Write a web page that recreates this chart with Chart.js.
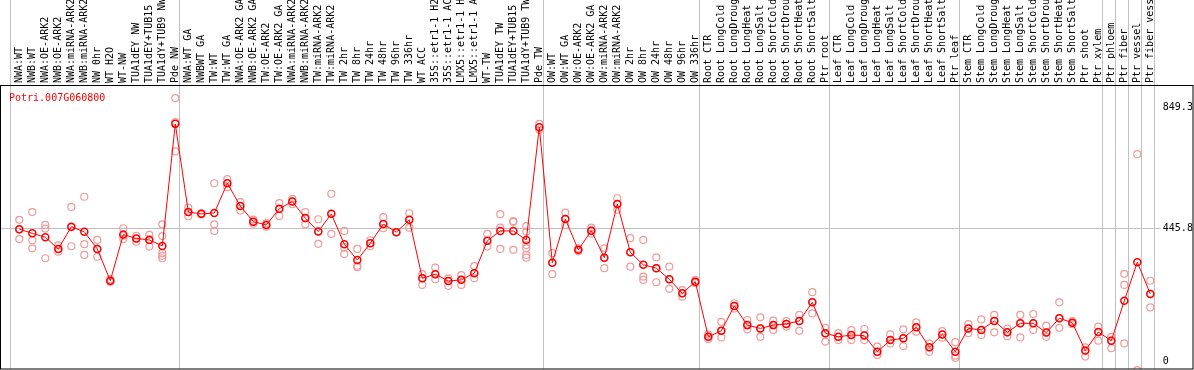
<!DOCTYPE html>
<html>
<head>
<meta charset="utf-8">
<script src="https://cdn.jsdelivr.net/npm/chart.js@4.4.1/dist/chart.umd.min.js"></script>
<style>
  html, body { margin: 0; padding: 0; background: #fff; }
  canvas { display: block; }
</style>
</head>
<body>
<canvas id="geneChart" width="1194" height="370"></canvas>
<script>
(function () {
    "use strict";

    var geneName = 'Potri.007G060800';

    var labels = [
        'NWA:WT', 'NWB:WT', 'NWA:OE-ARK2', 'NWB:OE-ARK2', 'NWA:miRNA-ARK2', 'NWB:miRNA-ARK2',
        'NW 0hr', 'WT H2O', 'WT-NW', 'TUA1dEY NW', 'TUA1dEY+TUB15 NW', 'TUA1dY+TUB9 NW', 'Pde NW',
        'NWA:WT GA', 'NWBWT GA', 'TW:WT', 'TW:WT GA', 'NWA:OE-ARK2 GA', 'NWB:OE-ARK2 GA',
        'TW:OE-ARK2', 'TW:OE-ARK2 GA', 'NWA:miRNA-ARK2', 'NWB:miRNA-ARK2', 'TW:miRNA-ARK2',
        'TW:miRNA-ARK2', 'TW 2hr', 'TW 8hr', 'TW 24hr', 'TW 48hr', 'TW 96hr', 'TW 336hr',
        'WT ACC', '35S::etr1-1 H2O', '35S::etr1-1 ACC', 'LMX5::etr1-1 H2O', 'LMX5::etr1-1 ACC',
        'WT-TW', 'TUA1dEY TW', 'TUA1dEY+TUB15 TW', 'TUA1dY+TUB9 TW', 'Pde TW',
        'OW:WT', 'OW:WT GA', 'OW:OE-ARK2', 'OW:OE-ARK2 GA', 'OW:miRNA-ARK2', 'OW:miRNA-ARK2',
        'OW 2hr', 'OW 8hr', 'OW 24hr', 'OW 48hr', 'OW 96hr', 'OW 336hr',
        'Root CTR', 'Root LongCold', 'Root LongDrought', 'Root LongHeat', 'Root LongSalt',
        'Root ShortCold', 'Root ShortDrought', 'Root ShortHeat', 'Root ShortSalt', 'Ptr root',
        'Leaf CTR', 'Leaf LongCold', 'Leaf LongDrought', 'Leaf LongHeat', 'Leaf LongSalt',
        'Leaf ShortCold', 'Leaf ShortDrought', 'Leaf ShortHeat', 'Leaf ShortSalt', 'Ptr leaf',
        'Stem CTR', 'Stem LongCold', 'Stem LongDrought', 'Stem LongHeat', 'Stem LongSalt',
        'Stem ShortCold', 'Stem ShortDrought', 'Stem ShortHeat', 'Stem ShortSalt', 'Ptr shoot',
        'Ptr xylem', 'Ptr phloem', 'Ptr fiber', 'Ptr vessel', 'Ptr fiber vessel'
    ];

    // mean expression per sample (red line)
    var means = [
        442, 428, 415, 376, 450, 433, 376, 270, 424, 411, 406, 386, 793,
        499, 493, 496, 595, 519, 467, 456, 510, 534, 479, 434, 493, 392, 339, 395, 459, 432, 473,
        278, 292, 269, 273, 295, 403, 436, 436, 406, 782,
        330, 476, 373, 437, 347, 526, 365, 323, 312, 275, 228, 267,
        83, 103, 186, 122, 111, 122, 126, 136, 198, 95,
        83, 89, 87, 33, 72, 78, 115, 48, 91, 33,
        111, 106, 136, 98, 128, 128, 97, 145, 130, 37, 99,
        70, 203, 332, 226
    ];

    // single replicates (pale circles)
    var reps = [
        [473, 441, 409], [499, 405, 378], [456, 444, 345], [388, 376, 367], [516, 448, 385],
        [550, 392, 356], [406, 376, 350], [275, 268, 266], [445, 420, 409], [420, 410, 400],
        [423, 409, 384], [458, 419, 362, 353, 345], [879, 701, 799],
        [514, 499, 485], [495, 491], [595, 458, 436], [609, 595, 582], [532, 519, 504],
        [474, 467, 460], [462, 456, 450], [529, 509, 486], [543, 534, 525], [499, 478, 458],
        [475, 434, 393], [560, 493, 426], [436, 381, 359], [376, 320, 315], [405, 395, 385],
        [482, 459, 445], [432, 432], [495, 473, 447], [292, 278, 256], [314, 292, 275],
        [278, 269, 253], [289, 273, 256], [319, 295, 278], [426, 403, 384], [492, 447, 376],
        [469, 466, 373], [452, 434, 389, 378, 356, 347], [793, 782, 773],
        [362, 330, 292], [497, 476, 455], [378, 373, 368], [447, 437, 427], [378, 347, 312],
        [545, 526, 507], [412, 365, 317], [406, 284, 273], [348, 312, 265], [317, 275, 243],
        [239, 228, 217], [272, 267, 262],
        [91, 83, 76], [133, 103, 81], [195, 186, 177], [139, 122, 108], [148, 111, 83],
        [137, 122, 106], [135, 126, 117], [156, 136, 103], [232, 198, 161], [113, 95, 67],
        [95, 83, 72], [105, 89, 72], [109, 87, 72], [50, 33, 22], [91, 72, 61],
        [108, 78, 52], [131, 115, 100], [60, 48, 33], [102, 91, 80], [65, 20, 13],
        [125, 111, 95], [141, 106, 89], [156, 136, 98], [110, 98, 85], [156, 128, 81],
        [159, 128, 106], [120, 97, 83], [198, 145, 113], [135, 130, 125], [48, 37, 17],
        [117, 99, 70], [83, 70, 45], [293, 256, 61], [692, -28], [270, 226, 181]
    ];

    var yTicks = [0, 445.8, 849.3];

    // first sample index of each tissue group (last entry = end)
    var groupStarts = [0, 13, 41, 53, 63, 73, 84, 85, 86, 87, 88];

    var meanPoints = means.map(function (v, i) { return {x: i, y: v}; });
    var repPoints = [];
    reps.forEach(function (list, i) {
        list.forEach(function (v) { repPoints.push({x: i, y: v}); });
    });

    var decorPlugin = {
        id: 'decor',
        beforeDatasetsDraw: function (chart) {
            var ctx = chart.ctx;
            var xs = chart.scales.x;
            var ys = chart.scales.y;
            var area = chart.chartArea;
            ctx.save();
            ctx.strokeStyle = '#c0c0c0';
            ctx.lineWidth = 1;
            groupStarts.forEach(function (s) {
                var px = Math.floor(xs.getPixelForValue(s - 0.64)) + 0.5;
                ctx.beginPath();
                ctx.moveTo(px, 0);
                ctx.lineTo(px, area.bottom);
                ctx.stroke();
            });
            var py = Math.round(ys.getPixelForValue(yTicks[1])) + 0.5;
            ctx.beginPath();
            ctx.moveTo(1, py);
            ctx.lineTo(area.right + 4, py);
            ctx.stroke();
            ctx.restore();
        },
        afterDraw: function (chart) {
            var ctx = chart.ctx;
            var ys = chart.scales.y;
            var area = chart.chartArea;
            ctx.save();
            ctx.strokeStyle = '#000';
            ctx.lineWidth = 1;
            ctx.strokeRect(0.5, area.top + 0.5, chart.width - 1.5, area.bottom - area.top - 0.5);
            ctx.font = '10px "DejaVu Sans Mono"';
            // y tick labels, inside the frame right of the plot
            ctx.fillStyle = '#000';
            ctx.textBaseline = 'middle';
            ctx.textAlign = 'left';
            yTicks.forEach(function (v) {
                ctx.fillText(String(v), area.right + 6, ys.getPixelForValue(v));
            });
            ctx.fillStyle = '#ff0000';
            ctx.textBaseline = 'alphabetic';
            ctx.fillText(geneName, 9, area.top + 16);
            ctx.restore();
        }
    };

    Chart.defaults.font.family = '"DejaVu Sans Mono", monospace';
    Chart.defaults.font.size = 10;
    Chart.defaults.color = '#000';

    var ctx = document.getElementById('geneChart').getContext('2d');
    new Chart(ctx, {
        type: 'line',
        data: {
            datasets: [
                {
                    data: meanPoints,
                    borderColor: '#ff0000',
                    borderWidth: 1,
                    pointRadius: 3.5,
                    pointBorderWidth: 1.5,
                    pointBorderColor: '#ff0000',
                    pointBackgroundColor: 'rgba(0,0,0,0)',
                    tension: 0,
                    order: 0
                },
                {
                    data: repPoints,
                    showLine: false,
                    pointRadius: 3.5,
                    pointBorderWidth: 1.2,
                    pointBorderColor: '#f09a9a',
                    pointBackgroundColor: 'rgba(0,0,0,0)',
                    order: 1
                }
            ]
        },
        options: {
            responsive: false,
            animation: false,
            devicePixelRatio: 1,
            events: [],
            layout: {autoPadding: false, padding: {left: 12.8, right: 0, top: 0, bottom: 1}},
            plugins: {legend: {display: false}, tooltip: {enabled: false}},
            scales: {
                x: {
                    type: 'linear',
                    position: 'top',
                    min: -0.5,
                    max: labels.length - 0.5,
                    grid: {display: false, drawTicks: false},
                    border: {display: false},
                    afterBuildTicks: function (scale) {
                        scale.ticks = labels.map(function (l, i) { return {value: i}; });
                    },
                    afterFit: function (scale) {
                        scale.height = 85;
                        scale.paddingLeft = 0;
                        scale.paddingRight = 0;
                    },
                    ticks: {
                        autoSkip: false,
                        minRotation: 90,
                        maxRotation: 90,
                        padding: 2,
                        labelOffset: 12,
                        callback: function (value) { return labels[value]; }
                    }
                },
                y: {
                    position: 'right',
                    min: -24.3,
                    max: 922.6,
                    grid: {display: false, drawTicks: false},
                    border: {display: false},
                    ticks: {display: false},
                    afterFit: function (scale) {
                        scale.width = 37.2;
                        scale.paddingTop = 0;
                        scale.paddingBottom = 0;
                    }
                }
            }
        },
        plugins: [decorPlugin]
    });
}());
</script>
</body>
</html>
